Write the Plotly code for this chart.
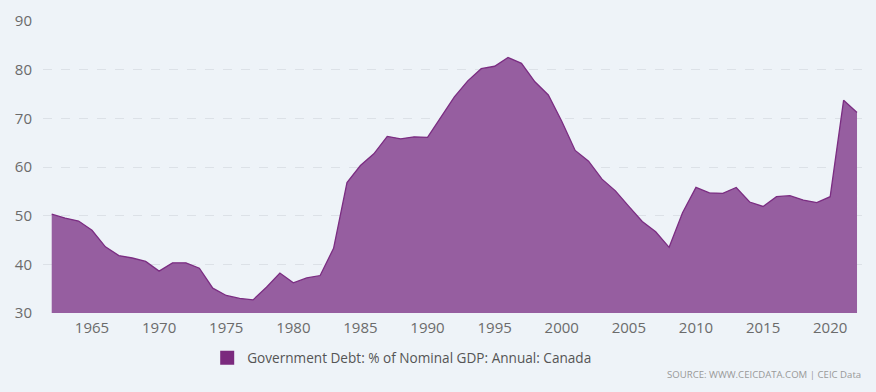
import plotly.graph_objects as go

years = list(range(1962, 2023))
debt = [50.3, 49.5, 48.9, 47.0, 43.6, 41.8, 41.3, 40.6, 38.6, 40.3,
        40.3, 39.2, 35.1, 33.6, 33.0, 32.7, 35.3, 38.2, 36.2, 37.2,
        37.7, 43.3, 56.8, 60.3, 62.7, 66.3, 65.8, 66.2, 66.1, 70.3,
        74.4, 77.7, 80.2, 80.7, 82.5, 81.3, 77.5, 74.8, 69.4, 63.4,
        61.2, 57.5, 55.1, 51.9, 48.8, 46.7, 43.5, 50.6, 55.8, 54.7,
        54.6, 55.8, 52.8, 51.9, 53.9, 54.1, 53.2, 52.7, 53.9, 73.7,
        71.2]
series_name = "Government Debt: % of Nominal GDP: Annual: Canada"
x_ticks = [1965, 1970, 1975, 1980, 1985, 1990, 1995, 2000, 2005, 2010, 2015, 2020]
y_ticks = [30, 40, 50, 60, 70, 80, 90]

bg = "#EEF3F8"
plot_h = 392 - 21 - 79
fig = go.Figure()
fig.add_trace(go.Scatter(
    x=years, y=debt, mode="lines", fill="tozeroy",
    line=dict(color="#7B2D82", width=1.3),
    fillcolor="rgba(150,94,160,1)",
    showlegend=False, hoverinfo="x+y"))
fig.add_trace(go.Scatter(
    x=[None], y=[None], mode="markers", name=series_name,
    marker=dict(symbol="square", size=14, color="#7B2A7E")))

fig.update_layout(
    width=876, height=392,
    paper_bgcolor=bg, plot_bgcolor=bg,
    margin=dict(l=43, r=12, t=21, b=79, autoexpand=False),
    font=dict(family="Open Sans", color="#666666", size=15),
    showlegend=True,
    legend=dict(orientation="h", x=0.2, xanchor="left",
                y=(313 - 358) / plot_h, yanchor="middle",
                font=dict(size=13.6, color="#555555"), bgcolor="rgba(0,0,0,0)"),
    annotations=[dict(text="SOURCE: WWW.CEICDATA.COM | CEIC Data",
                      xref="paper", yref="paper", x=(863 - 43) / 821, y=(313 - 374) / plot_h,
                      xanchor="right", yanchor="middle", showarrow=False,
                      font=dict(size=9.6, color="#999999"))],
)
fig.update_xaxes(range=[1961.35, 2022.52], tickvals=x_ticks, showgrid=False,
                 zeroline=False, showline=False, ticks="", ticklabelstandoff=4,
                 automargin=False, tickfont=dict(size=15, color="#6b6b6b"))
fig.update_yaxes(range=[30, 90], tickvals=y_ticks, showgrid=True,
                 gridcolor="#DCE1E7", griddash="dash", gridwidth=1,
                 zeroline=False, showline=False, ticks="", ticklabelstandoff=10,
                 automargin=False, tickfont=dict(size=15, color="#6b6b6b"))
fig.write_html("out.html", config={"displayModeBar": False})

with open("out.html", "r", encoding="utf-8") as f:
    html = f.read()
html = html.replace("<body>", '<body style="margin:0;padding:0;background:%s">' % bg, 1)
html = html.replace("<head>", "<head><style>html,body{margin:0;padding:0;overflow:hidden;}</style>", 1)
with open("out.html", "w", encoding="utf-8") as f:
    f.write(html)
